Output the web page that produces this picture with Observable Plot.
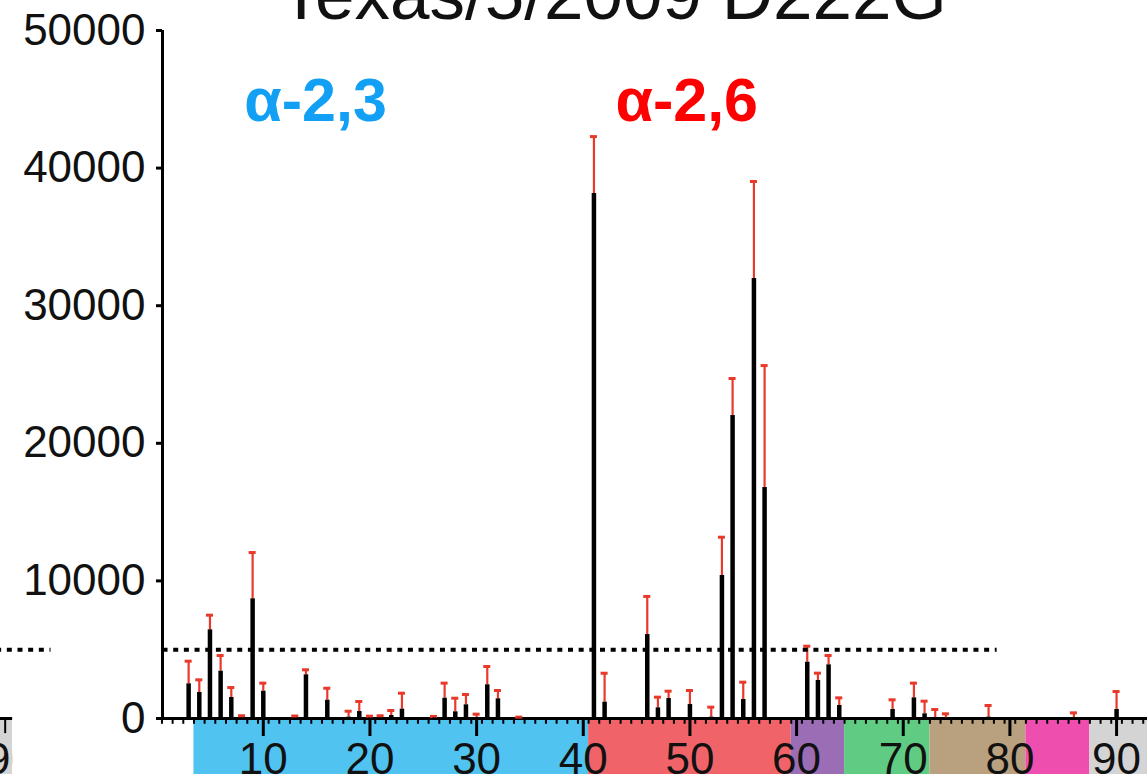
<!DOCTYPE html>
<html><head><meta charset="utf-8">
<script src="https://cdn.jsdelivr.net/npm/d3@7"></script>
<script src="https://cdn.jsdelivr.net/npm/@observablehq/plot@0.6"></script>
<style>html,body{margin:0;padding:0;background:#fff}svg{display:block}</style>
</head><body><div id="chart"></div>
<script>
// Glycan numbers with a visible bar / error bar
const glycanIds = [3,4,5,6,7,8,9,10,13,14,16,18,19,20,21,22,23,26,27,28,29,30,31,32,34,
  41,42,46,47,48,50,52,53,54,55,56,57,61,62,63,64,69,71,72,73,74,78,86,90];
// Mean RFU
const meanRFU = [2520,1890,6445,3440,1525,40,8700,1985,30,3175,1330,100,510,30,40,220,680,40,1475,485,995,60,2450,1430,20,
  38150,1185,6100,775,1455,1015,100,10390,22020,1380,31975,16790,4090,2760,3900,945,655,1500,340,50,30,100,50,655];
// Upper error (SD)
const sdRFU = [1645,920,1065,1140,725,160,3360,585,150,365,870,430,725,140,160,360,1160,110,1095,990,750,255,1330,605,80,
  4140,2105,2770,775,530,1020,725,2785,2690,1260,7050,8860,1165,535,680,555,705,1070,920,605,310,845,360,1305];

const yTicks = [0,10000,20000,30000,40000,50000];
const xTicks = [10,20,30,40,50,60,70,80,90];
const groupStart = [3.5,40.5,59.5,64.5,72.5,81.5,87.5];
const groupEnd   = [40.5,59.5,64.5,72.5,81.5,87.5,93.5];
const groupColors = ["#50c3f0","#f06469","#9a6db5","#60cb82","#b9a07f","#ee4eae","#d4d4d4"];
const titleText = "Texas/5/2009 D222G";
const linkLabels = ["α-2,3","α-2,6"];
const threshold = 5000;

const bars = glycanIds.map((id,i)=>({id, mean: meanRFU[i], top: meanRFU[i]+sdRFU[i]}));
const groups = groupStart.map((s,i)=>({x1:s, x2:groupEnd[i], c:groupColors[i]}));
const minorTicks = d3.range(0.5, 93, 1);
const FONT = "'Liberation Sans', Arial, Helvetica, sans-serif";
const RED = "#e8392b";

const chart = Plot.plot({
  width: 1147, height: 774,
  marginLeft: 162, marginRight: 0, marginTop: 30, marginBottom: 56,
  x: {domain: [0.55, 92.9], label: null},
  y: {domain: [0, 50000], label: null},
  color: {type: "identity"},
  style: {fontFamily: FONT, background: "#fff", overflow: "visible"},
  marks: [
    // fragment of neighbouring panel at left edge
    Plot.rect([0], {x1: -15, x2: -13.5, y1: -130, y2: -4200, fill: "#d4d4d4"}),
    Plot.text(["90"], {x: -13.7, y: 0, dy: 24, lineAnchor: "top", text: d => d, fontSize: 44, fill: "#111"}),
    Plot.rect([0], {x1: -13.5, x2: -0.3, y1: -60, y2: -4200, fill: "white"}),
    Plot.ruleY([0], {x1: -15, x2: -13.5, strokeWidth: 3}),
    Plot.ruleX([-14.2], {y1: -100, y2: -1100, strokeWidth: 2}),
    Plot.ruleY([threshold], {x1: -15, x2: -9.9, strokeWidth: 4, strokeDasharray: "5,5.67"}),

    // category bands
    Plot.rect(groups, {x1: "x1", x2: "x2", y1: -130, y2: -4200, fill: "c"}),
    // minor ticks
    Plot.ruleX(minorTicks, {y1: 0, y2: -420, strokeWidth: 2}),
    Plot.axisX({ticks: xTicks, tickSize: 18, tickPadding: 6, fontSize: 44, strokeWidth: 3, label: null, fill: "#111"}),
    Plot.ruleY([0], {x1: 0.4, x2: 93.5, strokeWidth: 3}),
    Plot.ruleX([0.55], {y1: 0, y2: 50000, strokeWidth: 3}),
    Plot.axisY({ticks: yTicks, tickSize: 6, tickPadding: 11, fontSize: 44, strokeWidth: 3,
      tickFormat: d => String(d), label: null, fill: "#111"}),

    // error bars
    Plot.ruleX(bars, {x: "id", y1: "mean", y2: "top", stroke: RED, strokeWidth: 2.2}),
    Plot.ruleY(bars, {y: "top", x1: d => d.id - 0.33, x2: d => d.id + 0.33, stroke: RED, strokeWidth: 3}),
    // bars
    Plot.ruleX(bars, {x: "id", y1: 0, y2: "mean", stroke: "#000", strokeWidth: 4.5}),
    // threshold
    Plot.ruleY([threshold], {x1: 0.6, x2: 78.8, strokeWidth: 4, strokeDasharray: "5,5.67"}),

    // texts
    Plot.text([titleText], {x: 42.8, y: 50870, text: d => d, lineAnchor: "bottom", fontSize: 71, fill: "#111"}),
    Plot.text([linkLabels[0]], {x: 14.9, y: 43450, text: d => d, lineAnchor: "bottom", fontSize: 61, fontWeight: "bold", fill: "#12a0f5"}),
    Plot.text([linkLabels[1]], {x: 49.7, y: 43450, text: d => d, lineAnchor: "bottom", fontSize: 61, fontWeight: "bold", fill: "#ff0000"})
  ]
});
document.getElementById("chart").appendChild(chart);
</script>
</body></html>
